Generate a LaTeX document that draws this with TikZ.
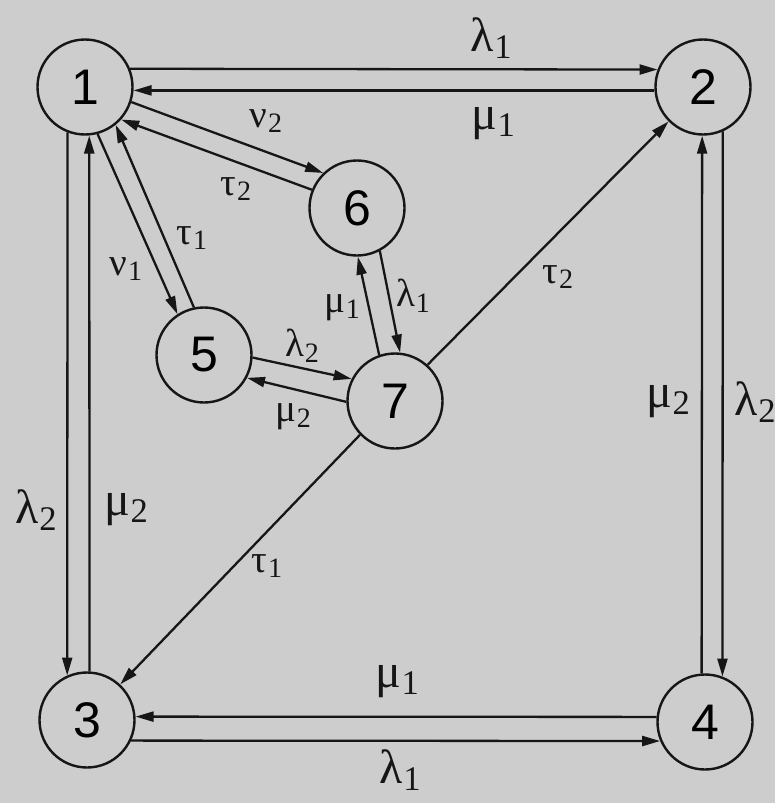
\documentclass[tikz,border=0pt]{standalone}
\usepackage{graphicx}
\usepackage{fontspec}
\setmainfont{Liberation Serif}
\newfontfamily\digitfont{Liberation Sans}
\usetikzlibrary{arrows.meta}
\definecolor{bg}{RGB}{205,205,205}
\definecolor{ink}{RGB}{22,22,22}
\newcommand{\glab}[2]{#1\kern0.02em\raisebox{-0.32ex}{\scalebox{0.72}{#2}}}
\tikzset{
  st/.style={circle, draw=ink, line width=2.4pt, minimum size=95pt, inner sep=0pt,
    font=\digitfont\fontsize{50}{50}\selectfont},
  arr/.style={draw=ink, line width=2.3pt, -{Triangle[length=18pt,width=10pt]}},
  lo/.style={inner sep=0pt, text=ink, font=\fontsize{48}{48}\selectfont},
  li/.style={inner sep=0pt, text=ink, font=\fontsize{39}{39}\selectfont},
}
\begin{document}
\begin{tikzpicture}[x=1pt,y=-1pt]
\fill[bg] (0,0) rectangle (775,803);
\useasboundingbox (0,0) rectangle (775,803);
\node[st] (n1) at (85,87) {1};
\node[st] (n2) at (703,87) {2};
\node[st] (n3) at (87,720) {3};
\node[st] (n4) at (705,722) {4};
\node[st] (n5) at (204,355) {5};
\node[st] (n6) at (357,208) {6};
\node[st] (n7) at (395,401) {7};
% outer rectangle
\draw[arr] (n1.22) -- (n2.159);
\draw[arr] (n2.-176) -- (n1.-4);
\draw[arr] (n1.-111) -- (n3.114);
\draw[arr] (n3.87) -- (n1.-85);
\draw[arr] (n2.-66) -- (n4.69);
\draw[arr] (n4.94) -- (n2.-91);
\draw[arr] (n3.-25) -- (n4.-157);
\draw[arr] (n4.174) -- (n3.4);
% inner
\draw[arr] (n1.-18) -- (n6.134);
\draw[arr] (n6.158) -- (n1.-42);
\draw[arr] (n1.-75) -- (n5.123);
\draw[arr] (n5.102) -- (n1.-51);
\draw[arr] (n5.-3) -- (n7.153);
\draw[arr] (n7.-179) -- (n5.-28);
\draw[arr] (n6.-62) -- (n7.84);
\draw[arr] (n7.109) -- (n6.-89);
\draw[arr] (n7.48) -- (n2.-135);
\draw[arr] (n7.-136) -- (n3.47);
% labels
\node[lo] (a1) at (491,38) {\glab{λ}{1}};
\node[lo] (a2) at (493,124) {\glab{μ}{1}};
\node[lo] (a3) at (36,510) {\glab{λ}{2}};
\node[lo] (a4) at (126,510) {\glab{μ}{2}};
\node[lo] (a5) at (668,402) {\glab{μ}{2}};
\node[lo] (a6) at (755,402) {\glab{λ}{2}};
\node[lo] (a7) at (397,682) {\glab{μ}{1}};
\node[lo] (a8) at (400,770) {\glab{λ}{1}};
\node[li] (b1) at (266,121) {\glab{ν}{2}};
\node[li] (b2) at (236,189) {\glab{τ}{2}};
\node[li] (b3) at (192,238) {\glab{τ}{1}};
\node[li] (b4) at (126,269) {\glab{ν}{1}};
\node[li] (b5) at (342,308) {\glab{μ}{1}};
\node[li] (b6) at (413,296) {\glab{λ}{1}};
\node[li] (b7) at (302,346) {\glab{λ}{2}};
\node[li] (b8) at (293,417) {\glab{μ}{2}};
\node[li] (b9) at (558,277) {\glab{τ}{2}};
\node[li] (b10) at (267,566) {\glab{τ}{1}};
\end{tikzpicture}
\end{document}
